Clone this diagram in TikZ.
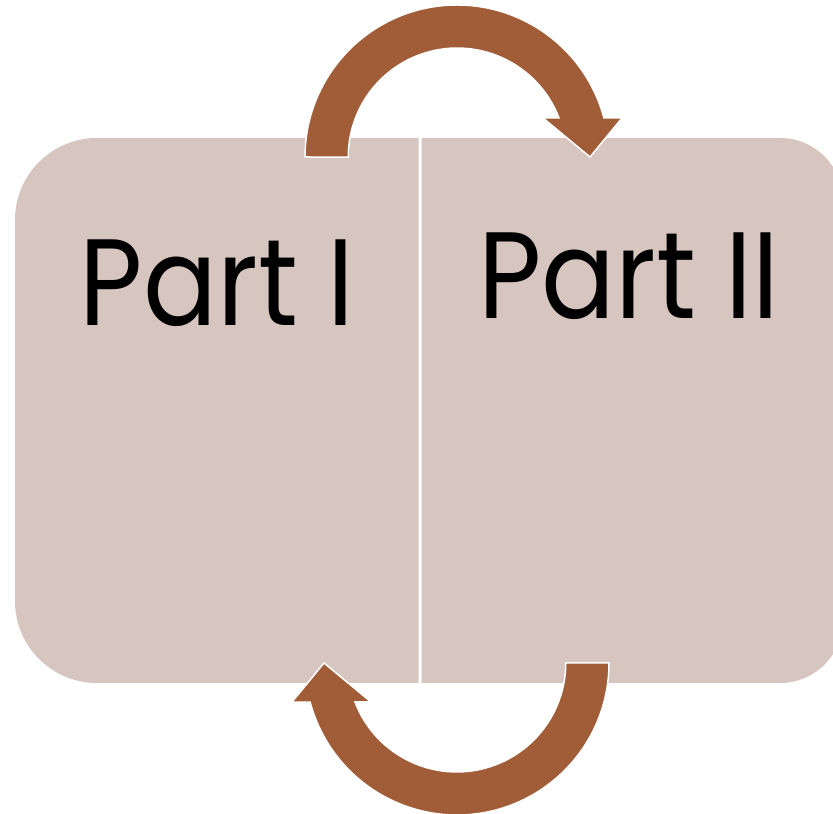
\documentclass[tikz,border=0pt]{standalone}
\usepackage{fontspec}
\setmainfont{Poppins}
\newfontfamily\partfont[FakeStretch=0.89]{Poppins}
\definecolor{boxfill}{HTML}{D7C5BF}
\definecolor{arrowfill}{HTML}{A05D38}
\tikzset{
	partbox/.style={fill=boxfill},
	partlabel/.style={anchor=base,inner sep=0pt,font=\partfont\fontsize{123}{130}\selectfont},
	turnarrow/.style={fill=arrowfill,draw=white,line width=1.5pt,line join=miter}
}
\begin{document}
\begin{tikzpicture}[x=1pt,y=1pt]
	\useasboundingbox (0,0) rectangle (833,814);
	% the two halves
	\fill[partbox] (418.5,131) -- (97,131) arc[start angle=270,end angle=180,radius=82] -- (15,594) arc[start angle=180,end angle=90,radius=82] -- (418.5,676) -- cycle;
	\fill[partbox] (421.5,131) -- (780,131) arc[start angle=270,end angle=360,radius=63] -- (843,613) arc[start angle=0,end angle=90,radius=63] -- (421.5,676) -- cycle;
	\node[partlabel] (partone) at (217,488) {Part I};
	\node[partlabel] (parttwo) at (629,495) {Part II};
	% arrows, the lower one is the upper one turned round
	\draw[turnarrow] (305,657) arc[start angle=180,end angle=14.9,radius=152] -- (622,696) -- (590,657) -- (543,696) -- (559,696) arc[start angle=21,end angle=180,radius=109] -- cycle;
	\draw[turnarrow,rotate around={180:(457,404)}] (305,657) arc[start angle=180,end angle=14.9,radius=152] -- (622,696) -- (590,657) -- (543,696) -- (559,696) arc[start angle=21,end angle=180,radius=109] -- cycle;
\end{tikzpicture}
\end{document}
